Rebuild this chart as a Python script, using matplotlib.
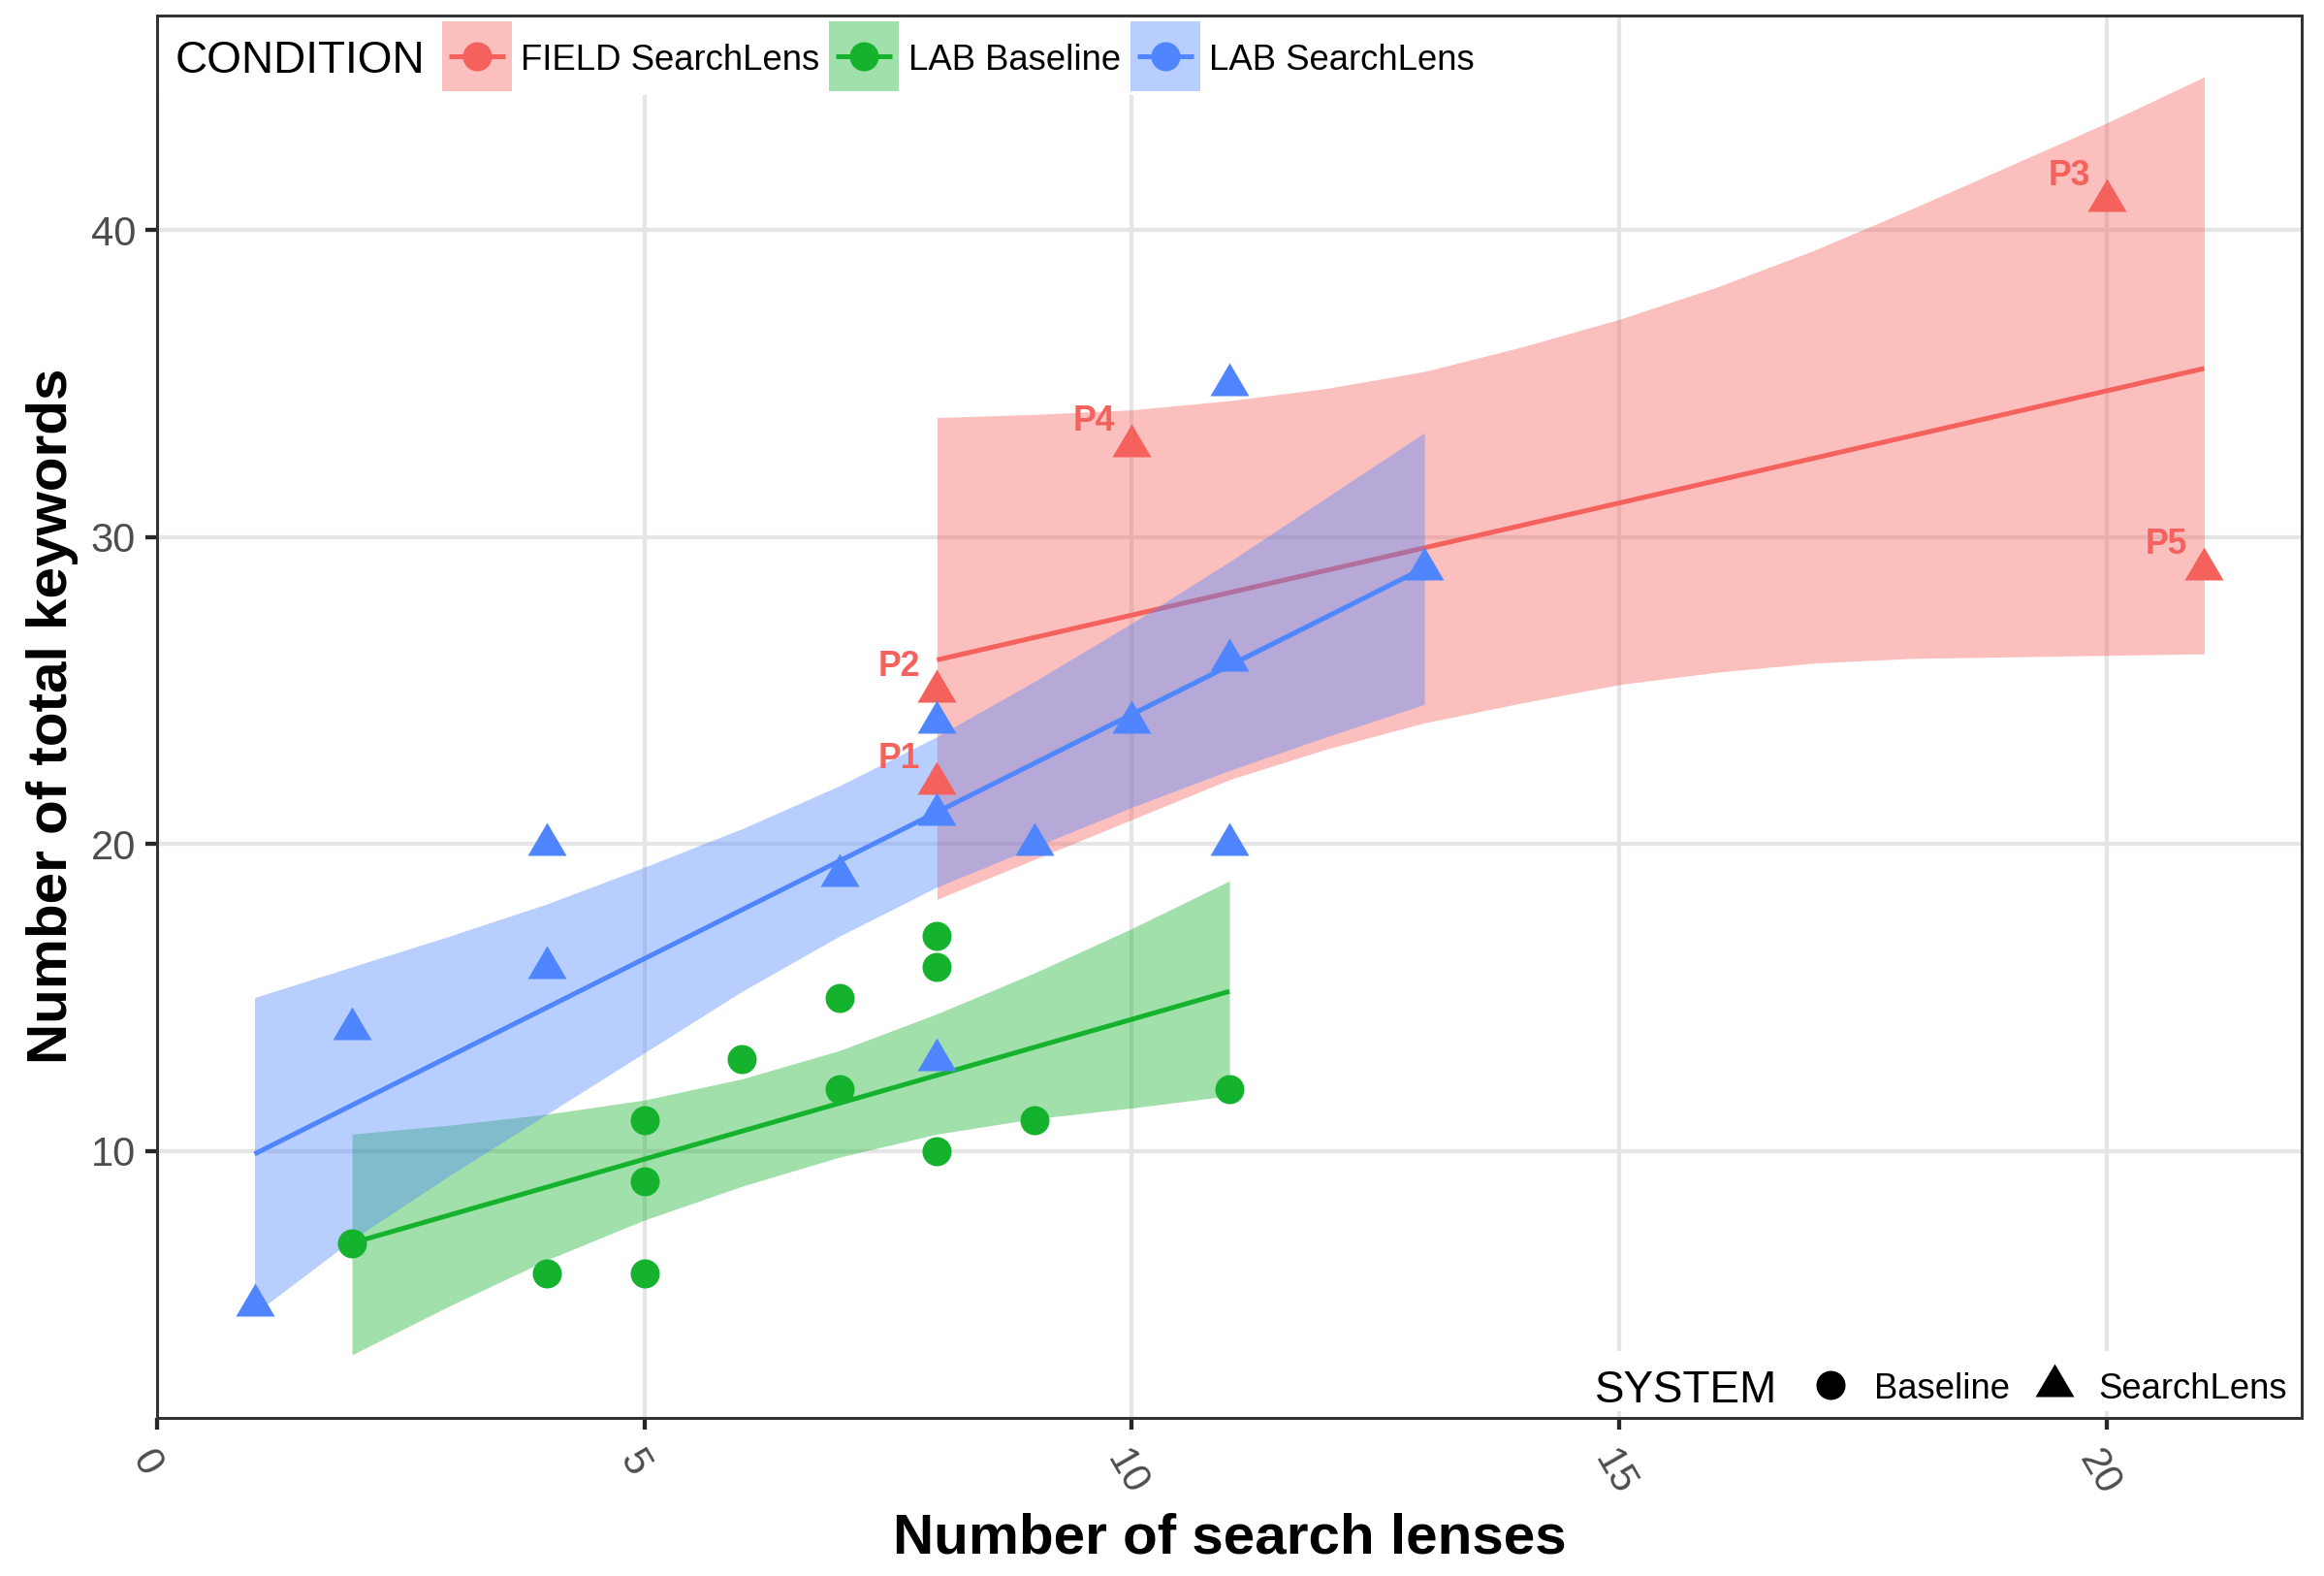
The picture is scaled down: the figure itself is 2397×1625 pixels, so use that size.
import matplotlib
matplotlib.use("Agg")
import matplotlib.pyplot as plt
from matplotlib.patches import Rectangle
from matplotlib.lines import Line2D
from matplotlib.path import Path
from matplotlib.transforms import ScaledTranslation

plt.rcParams['font.family'] = ['Liberation Sans', 'DejaVu Sans']

RED, GREEN, BLUE = '#F5615C', '#14B22D', '#4F86FF'

field_x = [8, 8, 10, 20, 21]
field_y = [22, 25, 33, 41, 29]
field_labels = ['P1', 'P2', 'P4', 'P3', 'P5']
base_x = [2, 4, 5, 5, 5, 6, 7, 7, 8, 8, 8, 9, 11]
base_y = [7, 6, 6, 9, 11, 13, 12, 15, 10, 16, 17, 11, 12]
lab_x = [1, 2, 4, 4, 7, 8, 8, 8, 9, 10, 11, 11, 11, 13]
lab_y = [5, 14, 16, 20, 19, 13, 21, 24, 20, 24, 20, 26, 35, 29]

field_line_x = [8, 21]
field_line_y = [26.0, 35.5]
base_line_x = [2, 11]
base_line_y = [7.0, 15.2]
lab_line_x = [1, 13]
lab_line_y = [9.9, 29.0]

field_band_x = [8, 9, 10, 11, 12, 13, 14, 15, 16, 17, 18, 19, 20, 21]
field_upper = [33.9, 34.0, 34.15, 34.45, 34.85, 35.4, 36.2, 37.1, 38.15, 39.35, 40.7, 42.1, 43.5, 45.0]
field_lower = [18.2, 19.5, 20.8, 22.1, 23.1, 23.95, 24.6, 25.2, 25.6, 25.9, 26.05, 26.1, 26.15, 26.2]
base_band_x = [2, 3, 4, 5, 6, 7, 8, 9, 10, 11]
base_upper = [10.55, 10.84, 11.2, 11.66, 12.35, 13.27, 14.47, 15.8, 17.25, 18.8]
base_lower = [3.36, 4.95, 6.45, 7.75, 8.85, 9.8, 10.55, 11.05, 11.4, 11.8]
lab_band_x = [1, 2, 3, 4, 5, 6, 7, 8, 9, 10, 11, 12, 13]
lab_upper = [15.0, 16.0, 17.0, 18.05, 19.25, 20.5, 21.9, 23.5, 25.3, 27.2, 29.2, 31.3, 33.4]
lab_lower = [4.7, 7.1, 9.2, 11.2, 13.2, 15.2, 17.0, 18.6, 19.9, 21.2, 22.4, 23.5, 24.55]

W, H, DPI = 2397, 1625, 200
L, R, T, B = 162, 2374, 16, 1462
fig = plt.figure(figsize=(W / DPI, H / DPI), dpi=DPI, facecolor='white')
ax = fig.add_axes([L / W, 1 - B / H, (R - L) / W, (B - T) / H])
ax.set_xlim(0, 22)
ax.set_ylim(1.3, 47)

px = DPI / 72
ax.set_axisbelow(True)
ax.grid(True, color='#E5E5E5', lw=4.3 / px)
ax.set_xticks([0, 5, 10, 15, 20])
ax.set_yticks([10, 20, 30, 40])
ax.tick_params(length=12 / px, width=4.3 / px, color='#262626', labelcolor='#4D4D4D', labelsize=15)
ax.tick_params(axis='y', pad=10 / px)
ax.tick_params(axis='x', pad=15 / px)
x_label_shift = [-11, -11, -5, -5, -8]
for t, dx in zip(ax.get_xticklabels(), x_label_shift):
    t.set_rotation(-60)
    t.set_ha('center')
    t.set_va('top')
    t.set_transform(t.get_transform() + ScaledTranslation(dx / DPI, 0, fig.dpi_scale_trans))
for s in ax.spines.values():
    s.set_color('#333333')
    s.set_linewidth(3 / px)
    s.set_zorder(30)

LW = 5 / px
ALPHA = 0.4
groups = [
    (field_band_x, field_upper, field_lower, field_line_x, field_line_y, RED),
    (base_band_x, base_upper, base_lower, base_line_x, base_line_y, GREEN),
    (lab_band_x, lab_upper, lab_lower, lab_line_x, lab_line_y, BLUE),
]
for i, (bx, up, lo, lx, ly, c) in enumerate(groups):
    ax.fill_between(bx, lo, up, color=c, alpha=ALPHA, lw=0, zorder=2 + i * 0.1)
    ax.plot(lx, ly, color=c, lw=LW, solid_capstyle='butt', zorder=2.05 + i * 0.1)

TRI = Path([(-20, -12), (20, -12), (0, 22), (-20, -12)], closed=True)
TS = 44 / px
CS = 30 / px
ax.plot(field_x, field_y, ls='', marker=TRI, ms=TS, color=RED, mew=0, zorder=3, clip_on=False)
ax.plot(base_x, base_y, ls='', marker='o', ms=CS, color=GREEN, mew=0, zorder=3.1)
ax.plot(lab_x, lab_y, ls='', marker=TRI, ms=TS, color=BLUE, mew=0, zorder=3.2)
for x, y, s in zip(field_x, field_y, field_labels):
    ax.annotate(s, (x, y), xytext=(-39 / px, 24.5 / px), textcoords='offset points', color=RED,
                fontsize=12.8, fontweight='bold', ha='center', va='center', zorder=4)

ax.set_xlabel('Number of search lenses', fontsize=21, fontweight='bold', color='black')
ax.xaxis.set_label_coords(1268 / W, 1 - 1586 / H, transform=fig.transFigure)
ax.set_ylabel('Number of total keywords', fontsize=21, fontweight='bold', color='black')
ax.yaxis.set_label_coords(54 / W, 1 - 738 / H, transform=fig.transFigure)
ax.xaxis.label.set_va('center')
ax.yaxis.label.set_va('center')

def fx(x):
    return x / W

def fy(y):
    return 1 - y / H

def rect(x0, y0, x1, y1, c, alpha=1.0, z=10):
    ax.add_patch(Rectangle((fx(x0), fy(y1)), fx(x1 - x0), (y1 - y0) / H, transform=fig.transFigure,
                           facecolor=c, alpha=alpha, lw=0, zorder=z, clip_on=False))

def text(x, y, s, size, ha='left'):
    ax.text(fx(x), fy(y), s, transform=fig.transFigure, fontsize=size, color='black', ha=ha,
            va='center_baseline', zorder=12)

def mark(x, y, m, ms, c):
    ax.add_line(Line2D([fx(x)], [fy(y)], transform=fig.transFigure, marker=m, ms=ms, color=c, mew=0,
                       ls='', zorder=12, clip_on=False))

# top legend
rect(L + 2, T + 2, 1530, 98, 'white')
text(181, 58, 'CONDITION', 16.5)
for (x0, c, s, tx) in [(456, RED, 'FIELD SearchLens', 537), (855, GREEN, 'LAB Baseline', 937),
                       (1166, BLUE, 'LAB SearchLens', 1247)]:
    rect(x0, 22, x0 + 72, 94, c, alpha=ALPHA, z=11)
    ax.add_line(Line2D([fx(x0 + 7), fx(x0 + 65)], [fy(58), fy(58)], transform=fig.transFigure, color=c,
                       lw=LW, solid_capstyle='butt', zorder=12, clip_on=False))
    mark(x0 + 36, 58, 'o', CS, c)
    text(tx, 58, s, 13.13)

# bottom legend
rect(1635, 1393, R - 2, 1455, 'white')
text(1645, 1429, 'SYSTEM', 16.5)
mark(1888, 1428, 'o', CS, 'black')
text(1933, 1429, 'Baseline', 13.13)
mark(2119, 1428, TRI, TS, 'black')
text(2164, 1429, 'SearchLens', 13.13)

fig.savefig('out.png', dpi=DPI, facecolor='white')
